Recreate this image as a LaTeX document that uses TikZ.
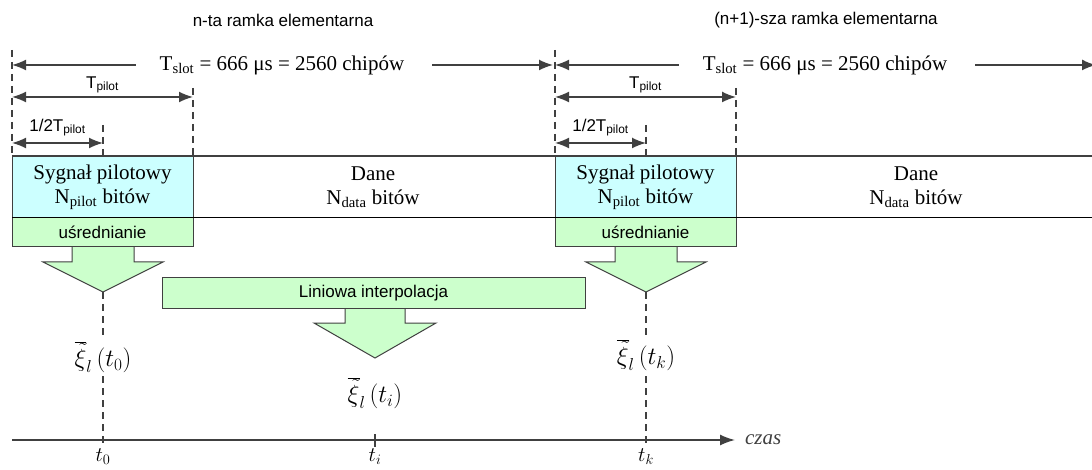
\documentclass[tikz,border=0pt]{standalone}
\usepackage{fontspec}
\setmainfont{Liberation Serif}
\setsansfont{Liberation Sans}
\usepackage{xcolor}
\usetikzlibrary{arrows.meta, math}
\definecolor{qcyan}{RGB}{204,255,255}
\definecolor{qgreen}{RGB}{204,255,204}
\definecolor{qgray}{RGB}{64,64,64}

\begin{document}
\begin{tikzpicture}[x=1pt, y=-1pt,
  dim/.style={{Latex[length=14pt,width=11pt]}-{Latex[length=14pt,width=11pt]}, line width=1.6pt, draw=qgray},
  onedim/.style={-{Latex[length=14pt,width=11pt]}, line width=1.6pt, draw=qgray},
  guide/.style={dash pattern=on 7pt off 5pt, line width=1.3pt, draw=qgray},
  serif/.style={font=\fontsize{21}{24}\selectfont, inner sep=2pt},
  sans/.style={font=\sffamily\fontsize{17}{20}\selectfont},
  small/.style={font=\sffamily\fontsize{17}{18}\selectfont, inner sep=1pt},
  formula/.style={font=\fontsize{27}{30}\selectfont, fill=white, inner sep=1pt},
  timelabel/.style={font=\fontsize{22}{26}\selectfont, inner sep=1pt},
  pilotbox/.style={draw=qgray, line width=1pt, fill=qcyan, minimum width=181pt, minimum height=62pt, inner sep=0pt, align=center, serif},
  greenbox/.style={draw=qgray, line width=1pt, fill=qgreen, inner sep=0pt, sans},
  bigarrow/.style={draw=qgray, line width=1pt, fill=qgreen},
]
\tikzmath{
\F=543;
}
\useasboundingbox (0,0) rectangle (1092,470);

% frame titles
\node[sans] (titlea) at (283,20) {n-ta ramka elementarna};
\node[sans] (titleb) at (283+\F,20) {(n+1)-sza ramka elementarna};

\foreach \o/\n in {0/a,543/b}{
  \coordinate (top\n) at (12+\o,50);
  \coordinate (bot\n) at (12+\o,156);
  \coordinate (ptop\n) at (193+\o,88);
  \coordinate (pbot\n) at (193+\o,156);
  \coordinate (htop\n) at (103+\o,125);
  \coordinate (hbot\n) at (103+\o,156);
  \coordinate (end\n) at (553+\o,50);
  \draw[guide] (top\n) -- (bot\n);
  \draw[guide] (ptop\n) -- (pbot\n);
  \draw[guide] (htop\n) -- (hbot\n);

  % slot length
  \node[serif] (slot\n) at (282+\o,65) {T\textsubscript{slot} = 666 μs = 2560 chipów};
  \draw[onedim] ([xshift=-22pt]slot\n.west) -- (slot\n -| top\n);
  \draw[onedim] ([xshift=26pt]slot\n.east) -- (slot\n -| end\n);

  % pilot lengths
  \coordinate (pl\n) at (12+\o,97);
  \coordinate (pr\n) at (193+\o,97);
  \coordinate (hl\n) at (12+\o,143);
  \coordinate (hr\n) at (103+\o,143);
  \draw[dim] (pl\n) -- (pr\n) node[midway, above=2pt, small] {T\textsubscript{pilot}};
  \draw[dim] (hl\n) -- (hr\n) node[midway, above=5pt, small] {1/2T\textsubscript{pilot}};

  % slot fields
  \node[pilotbox] (pilot\n) at (102.5+\o,187) {Sygnał pilotowy\\N\textsubscript{pilot} bitów};
  \node[serif, align=center] (dane\n) at (373+\o,187) {Dane\\N\textsubscript{data} bitów};

  % averaging
  \draw[bigarrow] (72+\o,247) -- ++(0,15) -- ++(-29,0) -- ++(60,30) coordinate (tip\n)
    -- ++(60,-30) -- ++(-29,0) -- (134+\o,247);
  \node[greenbox, minimum width=181pt, minimum height=29pt] (avg\n) at (102.5+\o,232.5) {uśrednianie};
}

% band borders
\coordinate (bandtl) at (12,156);
\coordinate (bandtr) at (1092,156);
\coordinate (bandbl) at (12,218);
\coordinate (bandbr) at (1092,218);
\draw[line width=1.6pt, qgray] (bandtl) -- (bandtr);
\draw[line width=1pt] (bandbl) -- (bandbr);

% interpolation
\draw[bigarrow] (345,308) -- ++(0,15) -- ++(-31,0) -- ++(61,35) coordinate (tipi)
  -- ++(61,-35) -- ++(-31,0) -- (405,308);
\node[greenbox, minimum width=423pt, minimum height=30pt] (interp) at (373.5,293) {Liniowa interpolacja};

% time axis
\coordinate (origin) at (12,440);
\coordinate (axend) at (735,440);
\coordinate (ticka) at (103,447);
\coordinate (tickb) at (646,447);
\coordinate (tickit) at (375,434);
\coordinate (tickib) at (375,447);
\draw[guide] (tipa) -- (ticka);
\draw[guide] (tipb) -- (tickb);
\draw[line width=1.5pt, qgray] (tickit) -- (tickib);
\draw[-{Latex[length=15pt,width=11pt]}, line width=1.5pt, qgray] (origin) -- (axend)
  node[right=6pt, font=\fontsize{21}{24}\selectfont\itshape, text=qgray] {czas};

\node[formula] (xia) at (103,357) {$\overline{\tilde{\xi}}_l\,\Bigl(t_0\Bigr)$};
\node[formula] (xii) at (375,393) {$\overline{\tilde{\xi}}_l\,\Bigl(t_i\Bigr)$};
\node[formula] (xib) at (646,355) {$\overline{\tilde{\xi}}_l\,\Bigl(t_k\Bigr)$};

\node[timelabel] (ta) at (103,457) {$t_0$};
\node[timelabel] (ti) at (375,457) {$t_i$};
\node[timelabel] (tk) at (646,457) {$t_k$};
\end{tikzpicture}
\end{document}
